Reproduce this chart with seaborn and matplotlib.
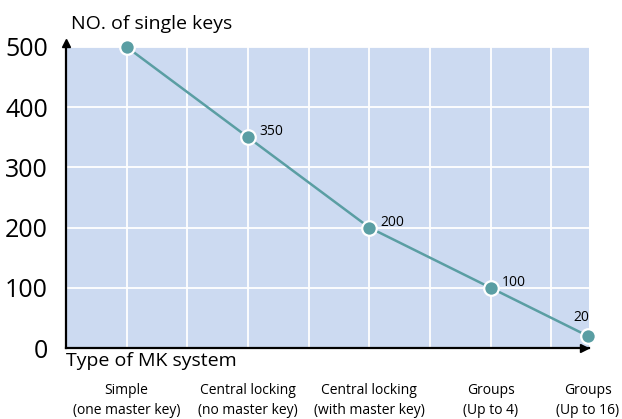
import matplotlib
matplotlib.use("Agg")
import matplotlib.pyplot as plt
import seaborn as sns
import pandas as pd
from matplotlib.ticker import FixedLocator

categories = ["Simple\n(one master key)", "Central locking\n(no master key)",
              "Central locking\n(with master key)", "Groups\n(Up to 4)", "Groups\n(Up to 16)"]
single_keys = [500, 350, 200, 100, 20]
y_ticks = [0, 100, 200, 300, 400, 500]

# layout: category x positions (last one sits at the plot edge)
xpos = [0.5, 1.5, 2.5, 3.5, 4.3]
xgrid = [0.5, 1, 1.5, 2, 2.5, 3, 3.5, 4]

sns.set_theme(style="white")
plt.rcParams['font.family'] = ['Open Sans', 'DejaVu Sans']
plt.rcParams['text.color'] = 'black'
plt.rcParams['xtick.color'] = 'black'
plt.rcParams['ytick.color'] = 'black'

df = pd.DataFrame({"x": xpos, "keys": single_keys, "cat": categories})

fig = plt.figure(figsize=(6.22, 4.19), dpi=100)
ax = fig.add_axes([66/622, 1-348/419, (589-66)/622, (348-47)/419])
ax.set_facecolor("#CCDAF1")

teal = "#5A9EA3"
sns.lineplot(data=df, x="x", y="keys", ax=ax, color=teal, linewidth=1.8,
             marker="o", markersize=10.5, markeredgecolor="white",
             markeredgewidth=1.6, zorder=5, clip_on=False)

ax.set_xlim(0, 4.31)
ax.set_ylim(0, 500)

ax.xaxis.set_major_locator(FixedLocator(xpos))
ax.set_xticklabels(categories, fontsize=10, linespacing=1.45)
ax.set_yticks(y_ticks)
ax.set_yticklabels([str(v) for v in y_ticks], fontsize=18)
ax.tick_params(axis="x", which="both", length=0, pad=25, labelcolor="black")
ax.tick_params(axis="y", length=0, pad=13, labelcolor="black")

ax.grid(False)
for gx in xgrid:
    ax.axvline(gx, color="white", linewidth=1.3, zorder=1)
ax.yaxis.grid(True, which="major", color="white", linewidth=1.3)
ax.set_axisbelow(True)

for s in ["top", "right"]:
    ax.spines[s].set_visible(False)
for s in ["left", "bottom"]:
    ax.spines[s].set_color("black")
    ax.spines[s].set_linewidth(1.6)
    ax.spines[s].set_zorder(3)

# axis arrows
ax.plot([0], [1.012], marker="^", color="black", markersize=6,
        transform=ax.transAxes, clip_on=False, zorder=4)
ax.plot([0.99], [0], marker=">", color="black", markersize=6,
        transform=ax.transAxes, clip_on=False, zorder=4)

ax.set_xlabel("")
ax.set_ylabel("")
ax.text(0, -0.012, "Type of MK system", transform=ax.transAxes, ha="left",
        va="top", fontsize=14)
ax.text(0.01, 1.045, "NO. of single keys", transform=ax.transAxes, ha="left",
        va="bottom", fontsize=14)

# value labels
offsets = {1: (8, 4, "left", "center"), 2: (8, 4, "left", "center"),
           3: (8, 4, "left", "center"), 4: (-5, 13, "center", "center")}
for i, (x, v) in enumerate(zip(xpos, single_keys)):
    if i == 0:
        continue
    dx, dy, ha, va = offsets[i]
    ax.annotate(str(v), (x, v), xytext=(dx, dy), textcoords="offset points",
                ha=ha, va=va, fontsize=10, zorder=6, annotation_clip=False)

fig.savefig("out.png", dpi=100)
